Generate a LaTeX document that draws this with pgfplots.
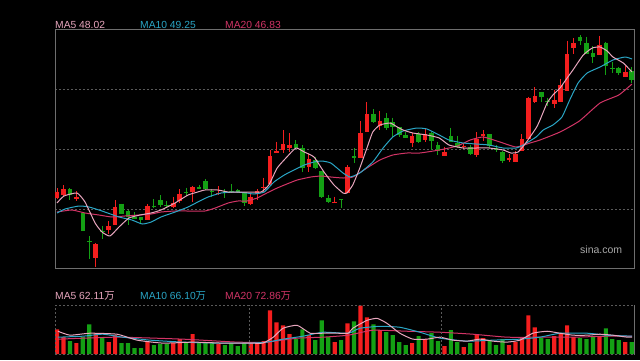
\documentclass[border=0pt]{standalone}
\usepackage{pgfplots}
\usepackage{pgfplotstable}
\pgfplotsset{compat=1.18}
\usepackage{fontspec}
\setmainfont{Liberation Sans}
\newfontfamily\cjk{Noto Sans CJK SC}
\definecolor{cred}{HTML}{F41E1E}
\definecolor{cgreen}{HTML}{14A014}
\definecolor{cmafive}{HTML}{E8A6BE}
\definecolor{cmaten}{HTML}{2AA6C6}
\definecolor{cmatwenty}{HTML}{D23466}
\definecolor{cgrid}{HTML}{5A5A5A}
\definecolor{cbox}{HTML}{6E6E6E}
\definecolor{csina}{HTML}{A8A8A8}

% candles: index, body top, body bottom, high, low (chart pixel rows)
\pgfplotstableread{
i bt bb h l
1 191.7 197.7 188 199
2 189 194.7 185 196
4 196.7 199.3 191 200.7
7 244 257.7 243 267
9 226 230 221 234
10 207 224.7 200 225
15 206 220 204 220
19 203 206.7 197 208
20 194 201 189 203
22 187 191.7 185.7 201.7
26 192.7 194 186 195
31 196.7 203.7 194 205
32 191 193.7 189 200
33 186.7 187.7 177.7 191.7
34 156 184.3 150 185
35 151 152.7 141.7 153
36 144.3 150.3 130 153.3
37 145 147.7 133.3 152.3
40 159 166.7 154 171.7
44 201.7 202.7 196.7 202.7
46 166.7 192.7 165 193.3
48 133.3 158.3 121 158.3
49 114 131.7 102.3 131.7
51 121 125.7 110.7 130
56 135.7 142.7 133.3 146.7
58 134.3 140 128 141.7
61 151.7 155.7 146.7 155.7
64 145.7 147.3 143 148.5
66 139 155 132.3 156.7
67 134.3 135.7 130 141
71 158.3 159.3 154.3 161.7
72 154.3 161.7 151 161.7
73 139 151 134 151
74 98.3 139 96.7 139
75 96 101.7 87.3 103.3
78 100 104 90 108.3
79 85 101.7 79.3 101.7
80 54 91 40.7 91
81 43.3 48.3 38.3 54
85 45 55 36 55
89 72 76.7 66 76.7
}\redc

\pgfplotstableread{
i bt bb h l
3 189 195 188 200
5 212.7 230.7 212.7 230.7
6 241 242 236 259
8 231 232 225.7 239
11 203.7 214 203.7 214
12 211 216.7 210 225
13 216.7 219 212 219
14 217 220 216.7 224
16 205.5 206.5 199 208
17 200 205 195 206.7
18 204.5 205.5 200.7 208
21 191.5 192.5 187.7 196
23 187 188.7 185 189
24 181 189.3 179 190
25 191 192 189 196.7
27 191 192 189 198
28 190.5 191.7 184 193
29 190 191.7 189 193
30 192 202.7 191.5 206
38 144.3 148.3 140 149
39 148.3 168.3 145 171.7
41 160 167.7 156.7 169
42 171 196.7 171 198
43 198.3 201.7 195 203
45 199 200 199 208
47 156 158.3 148.3 163.3
50 114 121.7 109 123.3
52 118.3 128.3 113.3 130
53 122.3 127.3 117.7 136.7
54 127.3 135 127.3 136.7
55 135 138.3 132.3 138.3
57 134.3 142.3 131.7 143.3
59 133.3 141 131.7 150
60 145 150.5 141.7 155
62 136 141.7 127.7 141.7
63 143.3 146.7 135.7 148.3
65 147.3 154 145 155
68 134.3 146 134.3 148
69 147.7 150.3 145 152
70 152.3 161 151 162.7
76 91.7 96.7 91.7 101.7
77 101.2 102.2 97.7 106
82 37.3 41 35 45
83 43.3 54 36.7 54
84 52.7 56.7 46 63.3
86 42.7 66 41.7 75
87 67.8 68.8 61.7 73.3
88 68.3 73.3 66.7 75
90 71.3 80 67.3 83.3
}\greenc

\pgfplotstableread{
i v
1 25
2 17
4 11
7 21
9 12
10 19
15 13
19 11
20 15
22 20
26 10
31 11
32 11
33 13
34 44
35 32
36 29
37 20
40 19
44 12
46 31
48 49
49 37
51 24
56 11
58 15
61 8
64 7
66 20
67 16
71 9
72 12
73 17
74 39
75 27
78 18
79 21
80 29
81 17
85 17
89 12
}\redv

\pgfplotstableread{
i v
3 13
5 17
6 30
8 16
11 11
12 11
13 6
14 6
16 9
17 10
18 10
21 11
23 11
24 12
25 12
27 9
28 11
29 8
30 11
38 15
39 25
41 14
42 34
43 17
45 14
47 33
50 30
52 22
53 19
54 12
55 9
57 18
59 21
60 13
62 24
63 12
65 11
68 14
69 9
70 15
76 16
77 15
82 16
83 15
84 17
86 26
87 15
88 14
90 12
}\greenv

\begin{document}
\begin{tikzpicture}[x=1pt,y=1pt]
\fill[black] (0,0) rectangle (640,360);

% ---------- price panel ----------
\begin{axis}[at={(55pt,92pt)}, anchor=south west, scale only axis,
  width=579pt, height=239pt,
  xmin=0.69, xmax=90.36, ymin=29, ymax=268, y dir=reverse,
  xtick=\empty, ytick={89,149,209}, yticklabels={}, major tick length=0pt,
  ymajorgrids, grid style={draw=cgrid, line width=1pt, dash pattern=on 2pt off 2pt},
  axis line style={draw=cbox, line width=1pt}]
% wicks
\addplot[draw=cred, line width=1pt, mark=none,
  quiver={u=0, v={\thisrow{l}-\thisrow{h}}}]
  table[x=i, y=h] {\redc};
\addplot[draw=cgreen, line width=1pt, mark=none,
  quiver={u=0, v={\thisrow{l}-\thisrow{h}}}]
  table[x=i, y=h] {\greenc};
% bodies
\addplot[draw=cred, line width=4.6pt, mark=none,
  quiver={u=0, v={max(\thisrow{bb}-\thisrow{bt},1.2)}}]
  table[x=i, y=bt] {\redc};
\addplot[draw=cgreen, line width=4.6pt, mark=none,
  quiver={u=0, v={max(\thisrow{bb}-\thisrow{bt},1.2)}}]
  table[x=i, y=bt] {\greenc};
% MA20
\addplot[cmatwenty, line width=1pt, line join=round, smooth, tension=0.3] coordinates {
(1,212)(3.3,210)(5.34,213)(7.5,215)(9.5,217)(11.5,216)(13.7,215)(15.6,214)(17.1,212)(19.3,211)(21.3,211)(23.9,211)(25.5,208)(27.5,203)(29.0,201)(30.4,201)(32.0,198)(33.5,193)(35.1,188)(36.6,184)(38.2,180)(40.3,177)(41.9,176)(43.4,177)(45.3,178)(46.8,177)(49.0,168)(51.0,160)(53.0,155)(55.2,153)(57.2,153)(60.2,150)(63.0,146)(65.0,140)(67.0,137)(69.6,142)(72.1,147)(74.25,143)(75.8,140)(78.9,132)(81.9,121)(85.1,103)(88.0,95)(90.05,84)};
% MA10
\addplot[cmaten, line width=1pt, line join=round, smooth, tension=0.3] coordinates {
(1,213)(2.24,209)(4.4,206)(5.96,207)(7.97,211)(10.6,217)(12.6,220)(14.2,224)(15.6,222)(17.1,217)(19.3,212)(21.3,207)(22.8,202)(24.4,197)(26.4,193)(28.6,192)(30.4,193)(31.5,194)(33.1,192)(34.6,182)(36.2,175)(37.7,170)(39.3,165)(40.8,162)(42.0,161)(43.4,163)(45.3,173)(46.4,177)(47.9,173)(49.9,162)(51.5,148)(53.0,137)(54.6,131)(56.75,128)(58.3,129)(60.2,135)(61.7,140)(63.9,143)(65.9,144)(67.9,145)(70.1,148)(72.1,148)(73.2,145)(75.2,137)(76.3,130)(77.8,125)(79.2,117)(80.4,100)(81.7,83)(83.1,73)(85.1,67)(87.1,60)(88.97,57)(90.05,59)};
% MA5
\addplot[cmafive, line width=1pt, line join=round, smooth, tension=0.3] coordinates {
(1,203)(2.08,196)(4.1,193)(5.34,202)(6.9,223)(7.97,232)(9.2,236)(10.6,227)(12.15,218)(13.85,215)(15.56,213)(17.1,210)(19.27,203)(21.3,195)(22.8,192)(23.9,190)(25.9,190)(27.5,192)(29.0,192)(30.4,192)(32.6,192)(33.8,185)(35.1,168)(36.6,157)(38.0,148)(39.3,152)(40.8,157)(42.35,172)(43.9,185)(45.3,193)(45.9,193)(46.8,185)(47.9,168)(49.0,148)(49.9,132)(51.0,125)(52.6,123)(53.7,127)(54.6,130)(56.1,133)(58.3,135)(60.2,138)(61.7,145)(63.9,148)(65.9,148)(67.9,148)(70.1,150)(71.3,153)(72.4,152)(73.6,143)(75.2,128)(75.8,120)(76.9,103)(77.8,95)(78.9,88)(80.0,78)(80.9,70)(82.5,55)(83.9,48)(85.1,47)(86.2,51)(87.1,57)(88.7,63)(90.05,72)};
\end{axis}

% ---------- volume panel ----------
\begin{axis}[at={(55pt,6pt)}, anchor=south west, scale only axis,
  width=579pt, height=49pt,
  xmin=0.69, xmax=90.36, ymin=0, ymax=49.5,
  xtick=\empty, ytick=\empty, axis line style={draw=none}]
\addplot[ybar, bar width=4.2pt, bar shift=0pt, fill=cred, draw=none] table[x=i, y=v] {\redv};
\addplot[ybar, bar width=4.2pt, bar shift=0pt, fill=cgreen, draw=none] table[x=i, y=v] {\greenv};
\addplot[cmatwenty, line width=1pt, smooth, tension=0.3] coordinates {
(1.15,15)(10.3,17)(20.5,15)(28.9,12)(33.5,12)(38.2,16)(42.2,17)(46.1,19)(49.9,24)(55.2,23)(60.3,22)(65.4,20)(70.7,17)(75.8,17)(80.9,17)(86.2,18)(90.05,18)};
\addplot[cmaten, line width=1pt, smooth, tension=0.3] coordinates {
(1.15,17)(5,18)(8.1,20)(11.2,17)(15.4,14)(20.5,12)(25.8,11)(30.9,11)(33.5,12)(36,15)(39.1,18)(42.2,22)(46.1,21)(47.9,26)(51,28)(54.1,27)(57.2,22)(60.3,16)(64.5,13)(68.5,14)(72.7,15)(75.8,17)(78.9,21)(83.1,21)(86.2,19)(90.05,18)};
\addplot[cmafive, line width=1pt, smooth, tension=0.3] coordinates {
(1.15,23)(3,19)(6.1,21)(10.3,20)(13.4,14)(17.4,11)(22.1,12)(26.7,11)(30.9,11)(32.9,11)(34.5,17)(36,26)(38.2,29)(40.2,21)(42.2,21)(44.4,21)(46.1,21)(46.8,26)(49,34)(50.6,36)(52.1,31)(54.1,21)(56.1,15)(58.3,15)(60.3,17)(62.3,14)(64.5,13)(66.5,15)(68.5,13)(70.7,12)(72.7,14)(74.7,21)(76.9,23)(78.9,21)(80.9,19)(83.1,19)(85.1,20)(87.1,19)(89.3,17)(90.05,17)};
\end{axis}

% volume panel frame
\draw[cgrid, line width=1pt, dash pattern=on 2pt off 2pt] (55,55) -- (634,55);
\draw[cgrid, line width=1pt, dash pattern=on 2pt off 2pt] (55,6) -- (634,6);
\draw[cgrid, line width=1pt, dash pattern=on 2pt off 2pt] (55,6) -- (55,55);
\draw[cgrid, line width=1pt, dash pattern=on 2pt off 2pt] (249,6) -- (249,55);
\draw[cgrid, line width=1pt, dash pattern=on 2pt off 2pt] (441,6) -- (441,55);
\draw[cbox, line width=1pt] (634.5,5.5) -- (634.5,55.5);

% labels
\node[anchor=base west, inner sep=0pt, text=cmafive, font=\fontsize{10.3}{12}\selectfont] at (55,332) {MA5 48.02};
\node[anchor=base west, inner sep=0pt, text=cmaten, font=\fontsize{10.3}{12}\selectfont] at (140,332) {MA10 49.25};
\node[anchor=base west, inner sep=0pt, text=cmatwenty, font=\fontsize{10.3}{12}\selectfont] at (225,332) {MA20 46.83};
\node[anchor=base west, inner sep=0pt, text=cmafive, font=\fontsize{10.3}{12}\selectfont] at (55,61) {MA5 62.11{\cjk 万}};
\node[anchor=base west, inner sep=0pt, text=cmaten, font=\fontsize{10.3}{12}\selectfont] at (140,61) {MA10 66.10{\cjk 万}};
\node[anchor=base west, inner sep=0pt, text=cmatwenty, font=\fontsize{10.3}{12}\selectfont] at (225,61) {MA20 72.86{\cjk 万}};
\node[anchor=base west, inner sep=0pt, text=csina, font=\fontsize{10.5}{12}\selectfont] at (580,107) {sina.com};

\pgfresetboundingbox
\path[use as bounding box] (0,0) rectangle (640,360);
\end{tikzpicture}
\end{document}
